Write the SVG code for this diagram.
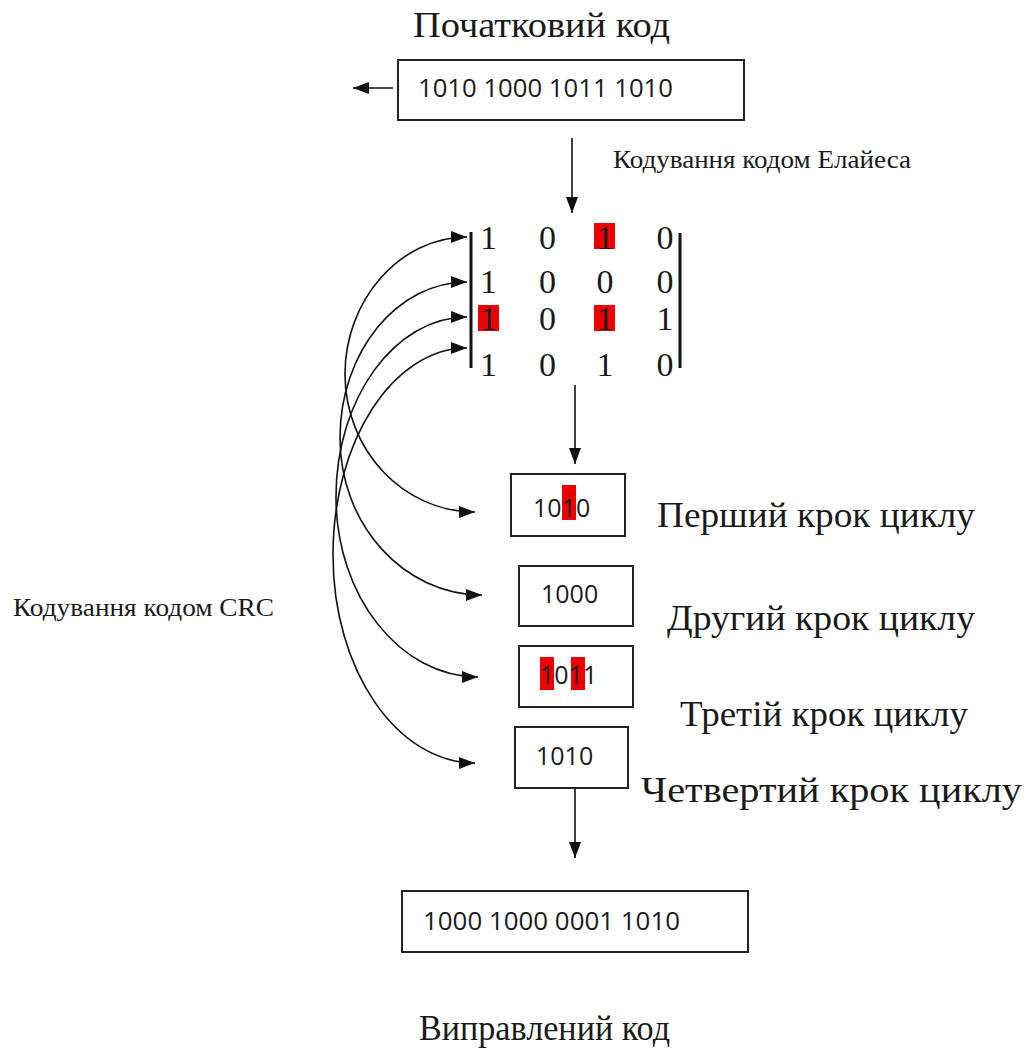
<svg xmlns="http://www.w3.org/2000/svg" width="1034" height="1056" viewBox="0 0 1034 1056">
  <style>
    .box { fill: #ffffff; stroke: #222222; stroke-width: 2; }
    .code { font-family: "Open Sans", "Liberation Sans", sans-serif; fill: #1a1a1a; }
    .label { font-family: "Liberation Serif", "DejaVu Serif", serif; fill: #1a1a1a; }
    .mx { font-family: "Liberation Serif", "DejaVu Serif", serif; font-size: 34px; fill: #1a1a1a; text-anchor: middle; }
    .hl { fill: #ee0000; }
    .bar { stroke: #111111; stroke-width: 3; }
    .wire { fill: none; stroke: #111111; stroke-width: 1.6; }
  </style>
  <defs>
    <marker id="arrow" viewBox="0 0 16 12" refX="16" refY="6" markerWidth="16" markerHeight="12" markerUnits="userSpaceOnUse" orient="auto-start-reverse">
      <path d="M0,0 L16,6 L0,12 Z" fill="#111111"/>
    </marker>
  </defs>
  <rect width="1034" height="1056" fill="#ffffff"/>

  <!-- source code -->
  <g id="title-source">
    <text class="label" x="413" y="37" font-size="36" textLength="257" lengthAdjust="spacingAndGlyphs">Початковий код</text>
  </g>
  <g id="source-code">
    <rect class="box" x="398" y="60" width="346" height="60"/>
    <text class="code" x="418" y="97" font-size="25" textLength="255" lengthAdjust="spacingAndGlyphs">1010 1000 1011 1010</text>
  </g>
  <g id="label-elias">
    <text class="label" x="613" y="168" font-size="25" textLength="298" lengthAdjust="spacingAndGlyphs">Кодування кодом Елайеса</text>
  </g>

  <!-- 4x4 matrix -->
  <g id="matrix">
    <rect class="hl" x="594" y="223" width="21" height="26"/>
    <rect class="hl" x="478" y="305" width="21" height="26"/>
    <rect class="hl" x="594" y="305" width="21" height="26"/>
    <line class="bar" x1="471" y1="232" x2="471" y2="368"/>
    <line class="bar" x1="680" y1="233" x2="680" y2="368"/>
    <text class="mx" x="488.5" y="249">1</text>
    <text class="mx" x="547.5" y="249">0</text>
    <text class="mx" x="605" y="249">1</text>
    <text class="mx" x="665" y="249">0</text>
    <text class="mx" x="488.5" y="293">1</text>
    <text class="mx" x="547.5" y="293">0</text>
    <text class="mx" x="605" y="293">0</text>
    <text class="mx" x="665" y="293">0</text>
    <text class="mx" x="488.5" y="330">1</text>
    <text class="mx" x="547.5" y="330">0</text>
    <text class="mx" x="605" y="330">1</text>
    <text class="mx" x="665" y="330">1</text>
    <text class="mx" x="488.5" y="376">1</text>
    <text class="mx" x="547.5" y="376">0</text>
    <text class="mx" x="605" y="376">1</text>
    <text class="mx" x="665" y="376">0</text>
  </g>

  <!-- loop steps -->
  <g id="step-1">
    <rect class="box" x="511" y="474" width="114" height="62"/>
    <rect class="hl" x="562" y="485" width="14" height="35"/>
    <text class="code" x="533" y="517" font-size="25">1010</text>
    <text class="label" x="657" y="527" font-size="35" textLength="318" lengthAdjust="spacingAndGlyphs">Перший крок циклу</text>
  </g>
  <g id="step-2">
    <rect class="box" x="519" y="566" width="114" height="60"/>
    <text class="code" x="541" y="603" font-size="25">1000</text>
    <text class="label" x="667" y="630" font-size="35" textLength="308" lengthAdjust="spacingAndGlyphs">Другий крок циклу</text>
  </g>
  <g id="step-3">
    <rect class="box" x="519" y="646" width="114" height="61"/>
    <rect class="hl" x="540" y="657" width="14" height="33"/>
    <rect class="hl" x="571" y="657" width="14" height="33"/>
    <text class="code" x="540" y="684" font-size="25">1011</text>
    <text class="label" x="680" y="726" font-size="35" textLength="288" lengthAdjust="spacingAndGlyphs">Третій крок циклу</text>
  </g>
  <g id="step-4">
    <rect class="box" x="515" y="727" width="113" height="61"/>
    <text class="code" x="536" y="765" font-size="25">1010</text>
    <text class="label" x="641" y="802" font-size="35" textLength="381" lengthAdjust="spacingAndGlyphs">Четвертий крок циклу</text>
  </g>

  <!-- corrected code -->
  <g id="corrected-code">
    <rect class="box" x="402" y="891" width="346" height="61"/>
    <text class="code" x="423" y="930" font-size="25" textLength="257" lengthAdjust="spacingAndGlyphs">1000 1000 0001 1010</text>
  </g>
  <g id="title-corrected">
    <text class="label" x="419" y="1040" font-size="36" textLength="251" lengthAdjust="spacingAndGlyphs">Виправлений код</text>
  </g>
  <g id="label-crc">
    <text class="label" x="13" y="616" font-size="25" textLength="261" lengthAdjust="spacingAndGlyphs">Кодування кодом CRC</text>
  </g>

  <!-- connectors -->
  <g id="connectors">
    <line class="wire" x1="393" y1="88" x2="353" y2="88" marker-end="url(#arrow)"/>
    <line class="wire" x1="572" y1="138" x2="572" y2="213" marker-end="url(#arrow)"/>
    <line class="wire" x1="575" y1="385" x2="575" y2="464" marker-end="url(#arrow)"/>
    <line class="wire" x1="575" y1="789" x2="575" y2="858" marker-end="url(#arrow)"/>
    <path class="wire" d="M467,237 C400,237 345,300 345,374 C345,450 403,512 475,512" marker-start="url(#arrow)" marker-end="url(#arrow)"/>
    <path class="wire" d="M467,282 C397,282 340,352 340,438 C340,525 404,595 482,595" marker-start="url(#arrow)" marker-end="url(#arrow)"/>
    <path class="wire" d="M467,317 C395,317 336,398 336,497 C336,596 400,677 478,677" marker-start="url(#arrow)" marker-end="url(#arrow)"/>
    <path class="wire" d="M467,348 C393,348 333,441 333,555 C333,670 397,763 475,763" marker-start="url(#arrow)" marker-end="url(#arrow)"/>
  </g>
</svg>
